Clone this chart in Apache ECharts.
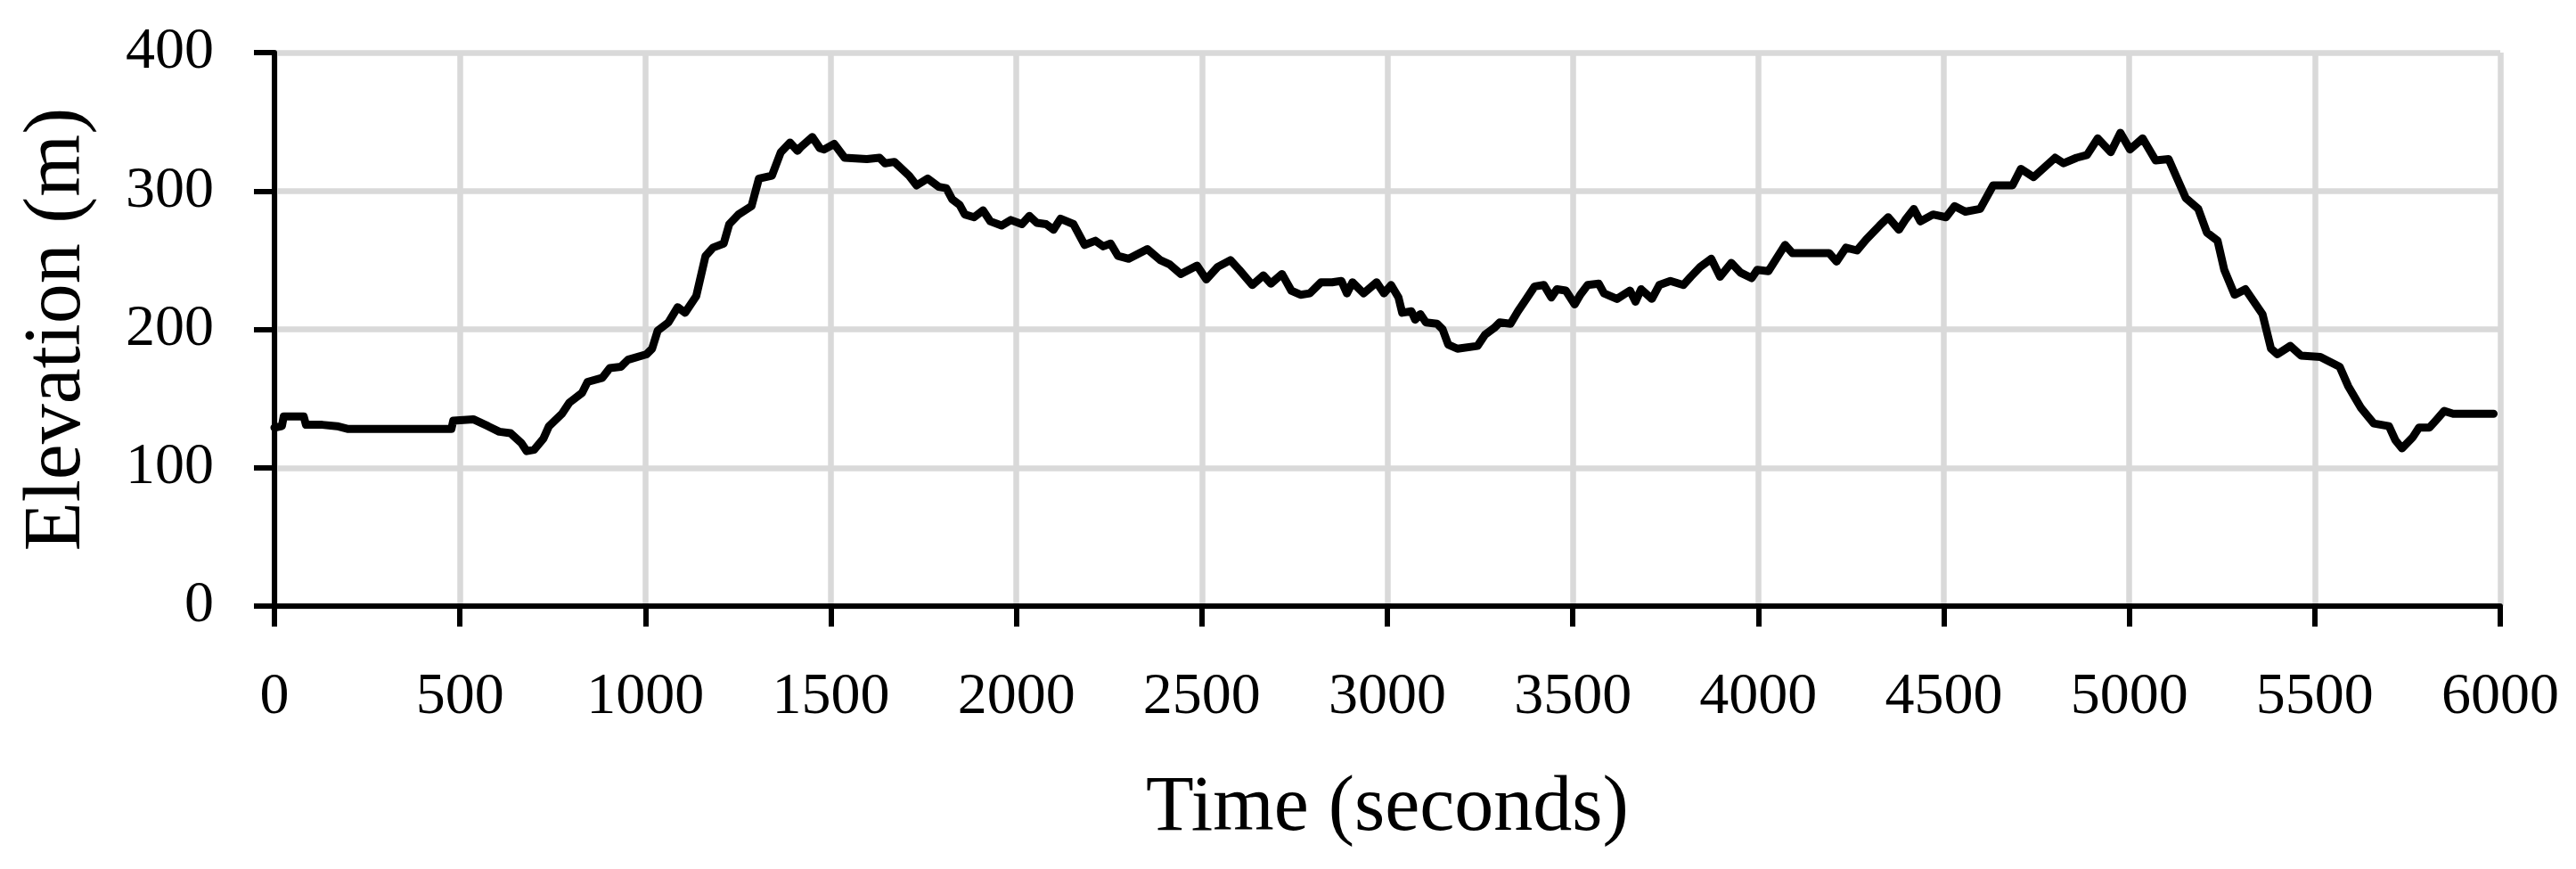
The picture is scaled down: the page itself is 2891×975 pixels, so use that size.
<!DOCTYPE html>
<html>
<head>
<meta charset="utf-8">
<script src="https://cdn.jsdelivr.net/npm/echarts@6/dist/echarts.min.js"></script>
<style>
html,body{margin:0;padding:0;background:#fff;}
#chart{width:2891px;height:975px;}
</style>
</head>
<body>
<div id="chart"></div>
<script>
const timeSeconds = [0,20,25,79,85,129,169,199,477,482,536,576,606,636,665,680,700,725,740,775,795,829,844,884,904,934,953,1003,1018,1033,1062,1087,1107,1137,1162,1182,1211,1226,1251,1286,1306,1341,1365,1390,1410,1420,1450,1470,1482,1509,1537,1597,1631,1646,1671,1711,1731,1761,1791,1811,1827,1847,1861,1886,1910,1930,1960,1985,2015,2035,2055,2080,2100,2119,2154,2184,2213,2234,2254,2274,2303,2353,2388,2413,2443,2487,2512,2542,2577,2601,2636,2666,2686,2716,2741,2766,2791,2821,2851,2876,2891,2906,2936,2971,2991,3010,3030,3040,3065,3075,3089,3104,3134,3149,3164,3189,3243,3263,3288,3303,3332,3352,3372,3397,3422,3442,3457,3481,3505,3520,3540,3570,3584,3619,3654,3669,3684,3713,3733,3763,3798,3818,3843,3873,3897,3927,3952,3982,3997,4027,4072,4092,4191,4211,4236,4266,4291,4327,4350,4379,4396,4419,4437,4471,4506,4529,4558,4598,4633,4685,4708,4742,4800,4823,4858,4886,4915,4950,4976,5002,5036,5071,5106,5129,5152,5186,5209,5238,5256,5284,5313,5336,5359,5382,5399,5434,5463,5515,5567,5590,5625,5659,5700,5717,5735,5764,5781,5809,5826,5849,5873,5982];
const elevationM = [129,130,137,137,131,131,130,128,128,134,135,130,126,125,118,112,113,121,130,139,147,154,162,165,172,173,178,182,186,199,205,216,212,224,253,259,262,276,283,289,309,311,328,335,329,332,339,331,330,334,324,323,324,320,321,311,304,309,303,302,294,290,283,281,286,278,275,279,276,282,277,276,272,280,276,261,264,260,262,253,251,258,250,247,240,246,236,245,250,243,232,239,233,240,228,225,226,234,234,235,226,234,226,234,226,232,223,212,213,207,211,205,204,200,189,186,188,196,201,205,204,213,221,231,232,223,229,228,218,225,232,233,226,222,228,220,229,222,232,235,232,238,245,251,238,248,241,237,243,242,261,255,255,249,259,257,265,275,281,272,279,287,278,283,281,289,285,287,304,304,316,310,324,320,324,326,338,328,342,330,338,322,323,309,295,287,270,264,243,225,229,220,211,186,182,188,181,180,173,159,143,132,130,120,114,122,129,129,134,141,139,139];
const xTicks = {min: 0, max: 6000, interval: 500};
const yTicks = {min: 0, max: 400, interval: 100};
const xTitle = 'Time (seconds)';
const yTitle = 'Elevation (m)';

const seriesData = timeSeconds.map((t, i) => [t, elevationM[i]]);
const font = '"Liberation Serif", "Times New Roman", serif';

const chart = echarts.init(document.getElementById('chart'), null, {renderer: 'canvas'});
chart.setOption({
  animation: false,
  backgroundColor: '#ffffff',
  grid: {left: 308, right: 85, top: 59, bottom: 295, containLabel: false},
  xAxis: {
    type: 'value',
    min: xTicks.min, max: xTicks.max, interval: xTicks.interval,
    name: xTitle, nameLocation: 'middle', nameGap: 184,
    nameTextStyle: {fontFamily: font, fontSize: 88, color: '#000'},
    axisLine: {show: true, onZero: false, lineStyle: {color: '#000', width: 6}},
    axisTick: {show: true, length: 23, lineStyle: {color: '#000', width: 6}},
    axisLabel: {fontFamily: font, fontSize: 66, color: '#000', margin: 70,
      formatter: v => String(v)},
    splitLine: {show: true, lineStyle: {color: '#d9d9d9', width: 6.5}}
  },
  yAxis: {
    type: 'value',
    min: yTicks.min, max: yTicks.max, interval: yTicks.interval,
    name: yTitle, nameLocation: 'middle', nameGap: 198, nameRotate: 90,
    nameTextStyle: {fontFamily: font, fontSize: 90, color: '#000'},
    axisLine: {show: true, lineStyle: {color: '#000', width: 6}},
    axisTick: {show: true, length: 23, lineStyle: {color: '#000', width: 6}},
    axisLabel: {fontFamily: font, fontSize: 66, color: '#000', margin: 68,
      formatter: v => String(v)},
    splitLine: {show: true, lineStyle: {color: '#d9d9d9', width: 6.5}}
  },
  series: [{
    type: 'line',
    data: seriesData,
    showSymbol: false,
    symbol: 'none',
    lineStyle: {color: '#000', width: 9, join: 'round', cap: 'round'},
    z: 5
  }]
});
</script>
</body>
</html>
